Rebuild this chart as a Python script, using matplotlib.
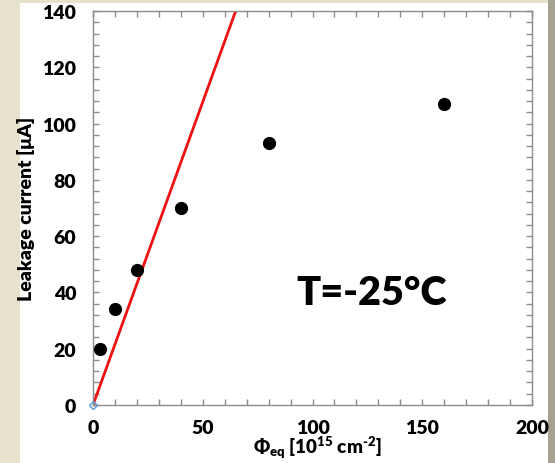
import matplotlib
matplotlib.use("Agg")
import matplotlib.pyplot as plt
from matplotlib.patches import Rectangle
from matplotlib.ticker import MultipleLocator

# dane
fluence = [3, 10, 20, 40, 80, 160]
current = [20, 34, 48, 70, 93, 107]
fit_x = [0, 65]
fit_y = [0, 140]

plt.rcParams['font.family'] = ['Lato', 'DejaVu Sans']
plt.rcParams['font.weight'] = 'heavy'
plt.rcParams['mathtext.fontset'] = 'custom'
plt.rcParams['mathtext.rm'] = 'Lato:heavy'
plt.rcParams['mathtext.bf'] = 'Lato:heavy'
plt.rcParams['mathtext.default'] = 'bf'

fig = plt.figure(figsize=(5.55, 4.64), dpi=100)
fig.patch.set_facecolor('#e7e2cc')
# biały panel i szary pasek po prawej
fig.patches.append(Rectangle((20 / 555, 0), 528 / 555, 460 / 464, transform=fig.transFigure,
                             facecolor='white', edgecolor='none', zorder=-2))
fig.patches.append(Rectangle((548 / 555, 0), 7 / 555, 1, transform=fig.transFigure,
                             facecolor='#a6a290', edgecolor='none', zorder=-2))

ax = fig.add_axes([93 / 555, 58 / 464, 439 / 555, 394 / 464])
ax.plot(fit_x, fit_y, color='#ee1111', lw=2, clip_on=True, zorder=2)
ax.plot([0], [0], marker='D', ms=4, mfc='none', mec='#5b9bd5', mew=1, zorder=3, clip_on=False)
ax.plot(fluence, current, 'o', color='black', ms=8.5, zorder=4)

ax.set_xlim(0, 200)
ax.set_ylim(0, 140)
ax.xaxis.set_major_locator(MultipleLocator(50))
ax.xaxis.set_minor_locator(MultipleLocator(10))
ax.yaxis.set_major_locator(MultipleLocator(20))
ax.yaxis.set_minor_locator(MultipleLocator(4))
for s in ax.spines.values():
    s.set_color('#8c8c8c')
    s.set_linewidth(1)
ax.tick_params(which='both', direction='in', top=True, right=True, length=4,
               color='#8c8c8c', width=1, labelsize=14)
ax.tick_params(axis='x', pad=10)
ax.tick_params(axis='y', pad=12)

ax.set_ylabel('Leakage current [μA]', fontsize=14, fontweight='heavy')
ax.yaxis.set_label_coords(-0.132, 0.5)
ax.set_xlabel(r'$\Phi_{eq}$ [10$^{15}$ cm$^{\text{-2}}$]', fontsize=13.5, fontweight='heavy')
ax.xaxis.set_label_coords(0.51, -0.074)

ax.text(127, 40, 'T=-25°C', fontsize=28.5, fontweight='heavy', ha='center', va='center')

fig.savefig('out.png', dpi=100, facecolor=fig.get_facecolor())
